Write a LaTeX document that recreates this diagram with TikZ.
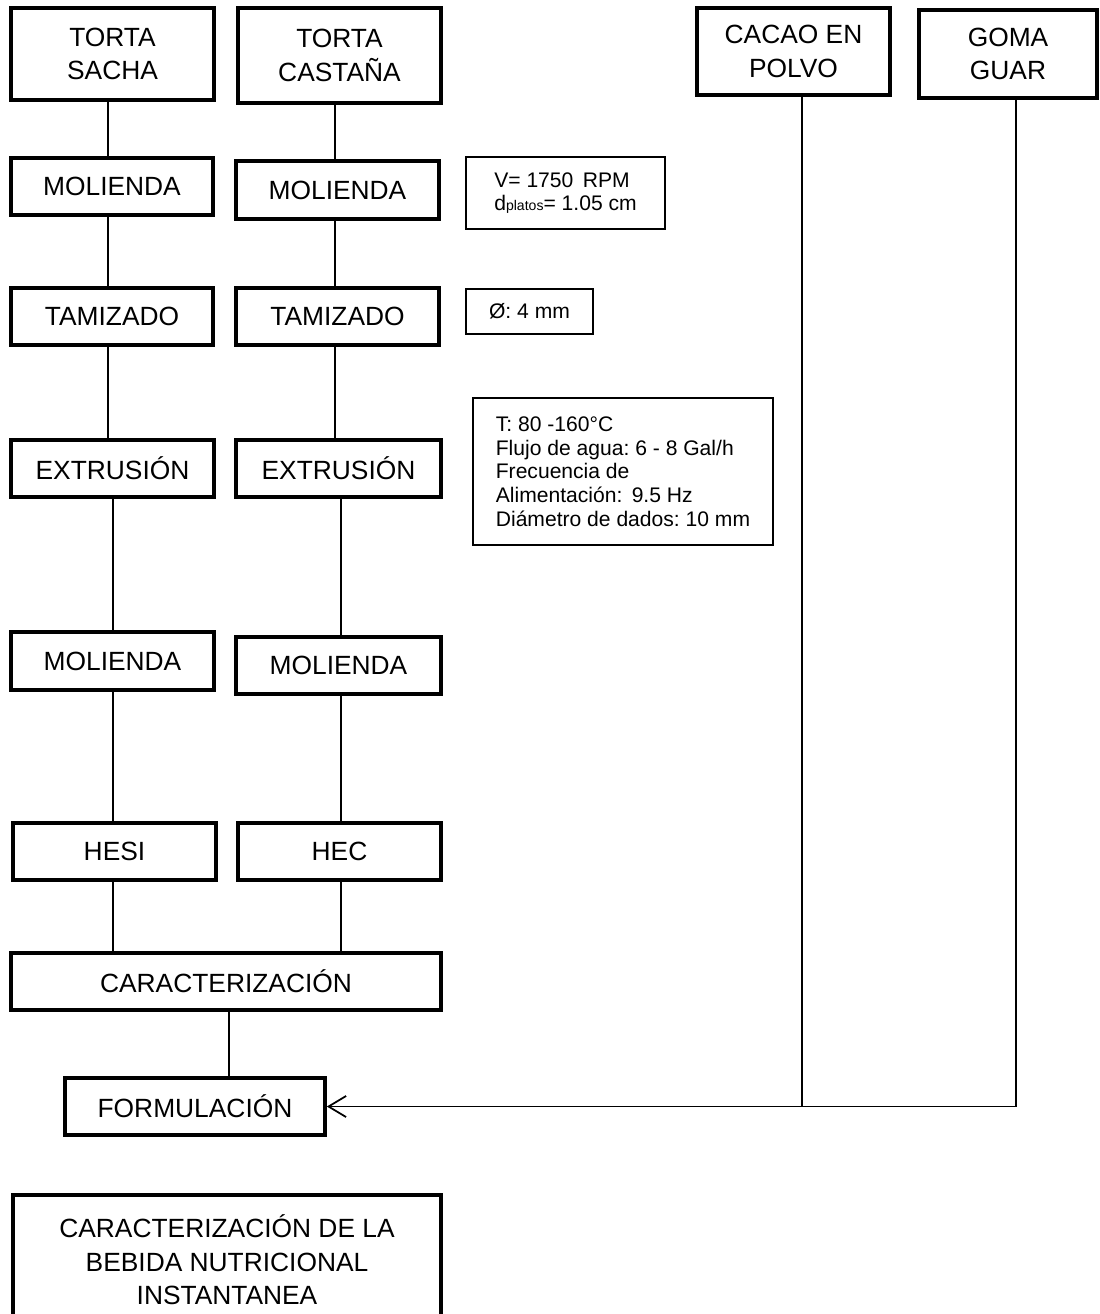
\documentclass[tikz,border=0pt]{standalone}
\usepackage{fontspec}
\setmainfont{Liberation Sans}
\usetikzlibrary{arrows.meta}

\tikzset{
  paso/.style={draw, line width=2.1pt, align=center, inner sep=0pt,
    font=\fontsize{15}{19}\selectfont},
  dato/.style={draw, line width=1pt, align=left, inner sep=0pt,
    font=\fontsize{12}{13.5}\selectfont\frenchspacing},
  linea/.style={line width=1pt}
}

\begin{document}
\begin{tikzpicture}[x=0.02cm, y=-0.02cm]
    \useasboundingbox (0,0) rectangle (1099,1314);
    % materias primas
    \node[paso, minimum width=4.06cm, minimum height=1.84cm] (ts) at (112.5,54) {TORTA\\SACHA};
    \node[paso, minimum width=4.06cm, minimum height=1.9cm] (tc) at (339.5,55.5) {TORTA\\CASTAÑA};
    \node[paso, minimum width=3.86cm, minimum height=1.74cm] (cc) at (793.5,51.5) {CACAO EN\\POLVO};
    \node[paso, minimum width=3.56cm, minimum height=1.76cm] (gg) at (1008,54) {GOMA\\GUAR};
    % etapas
    \node[paso, minimum width=4.04cm, minimum height=1.14cm] (m1) at (112,186.5) {MOLIENDA};
    \node[paso, minimum width=4.06cm, minimum height=1.16cm] (m2) at (337.5,190) {MOLIENDA};
    \node[paso, minimum width=4.04cm, minimum height=1.14cm] (t1) at (112,316.5) {TAMIZADO};
    \node[paso, minimum width=4.06cm, minimum height=1.14cm] (t2) at (337.5,316.5) {TAMIZADO};
    \node[paso, minimum width=4.06cm, minimum height=1.14cm] (e1) at (112.5,468.5) {EXTRUSIÓN};
    \node[paso, minimum width=4.1cm, minimum height=1.14cm] (e2) at (338.5,468.5) {EXTRUSIÓN};
    \node[paso, minimum width=4.06cm, minimum height=1.16cm] (m3) at (112.5,661) {MOLIENDA};
    \node[paso, minimum width=4.1cm, minimum height=1.14cm] (m4) at (338.5,665.5) {MOLIENDA};
    \node[paso, minimum width=4.06cm, minimum height=1.14cm] (h1) at (114.5,851.5) {HESI};
    \node[paso, minimum width=4.06cm, minimum height=1.14cm] (h2) at (339.5,851.5) {HEC};
    \node[paso, minimum width=8.6cm, minimum height=1.14cm] (ca) at (226,981.5) {CARACTERIZACIÓN};
    \node[paso, minimum width=5.2cm, minimum height=1.14cm] (f) at (195,1106.5) {FORMULACIÓN};
    \node[paso, minimum width=8.56cm, minimum height=2.6cm] (fin) at (227,1260)
      {CARACTERIZACIÓN DE LA\\BEBIDA NUTRICIONAL\\INSTANTANEA};
    % condiciones
    \node[dato, minimum width=3.98cm, minimum height=1.44cm] (pm) at (565.5,193)
      {V= 1750\, RPM\\d{\fontsize{8}{8}\selectfont platos}= 1.05 cm};
    \node[dato, minimum width=2.54cm, minimum height=0.9cm] (pt) at (529.5,311.5)
      {Ø: 4 mm};
    \node[dato, minimum width=6cm, minimum height=2.94cm] (pe) at (623,471.5)
      {T: 80 -160°C\\Flujo de agua: 6 - 8 Gal/h\\Frecuencia de\\Alimentación:\, 9.5 Hz\\Diámetro de dados: 10 mm};
    % conexiones
    \draw[linea] (ts.south -| 108,0) -- (m1.north -| 108,0);
    \draw[linea] (m1.south -| 108,0) -- (t1.north -| 108,0);
    \draw[linea] (t1.south -| 108,0) -- (e1.north -| 108,0);
    \draw[linea] (e1.south -| 113,0) -- (m3.north -| 113,0);
    \draw[linea] (m3.south -| 113,0) -- (h1.north -| 113,0);
    \draw[linea] (h1.south -| 113,0) -- (ca.north -| 113,0);
    \draw[linea] (tc.south -| 335,0) -- (m2.north -| 335,0);
    \draw[linea] (m2.south -| 335,0) -- (t2.north -| 335,0);
    \draw[linea] (t2.south -| 335,0) -- (e2.north -| 335,0);
    \draw[linea] (e2.south -| 341,0) -- (m4.north -| 341,0);
    \draw[linea] (m4.south -| 341,0) -- (h2.north -| 341,0);
    \draw[linea] (h2.south -| 341,0) -- (ca.north -| 341,0);
    \draw[linea] (ca.south -| 229,0) -- (f.north -| 229,0);
    \coordinate (cj) at (802,1106.5);
    \coordinate (gj) at (1016,1106.5);
    \draw[linea] (cc.south -| cj) -- (cj);
    \draw[linea, -{Straight Barb[length=10pt, width=12pt]}] (gg.south -| gj) -- (gj) -- (f.east);
\end{tikzpicture}
\end{document}
